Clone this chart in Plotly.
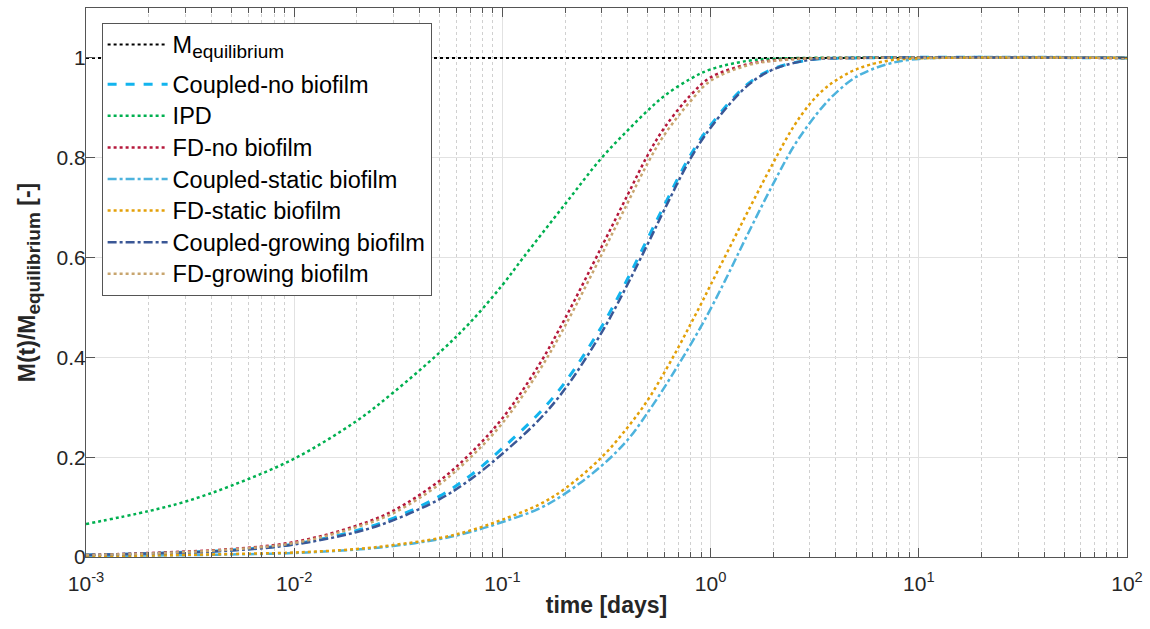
import plotly.graph_objects as go

# ---------------- data ----------------
t_eq = [1e-3, 1e2]
m_eq = [1.0, 1.0]

t_ipd = [1e-3, 2e-3, 3e-3, 5e-3, 1e-2, 2e-2, 3e-2, 5e-2, 7e-2, 0.1, 0.126, 0.2, 0.3, 0.4, 0.5, 0.6, 0.8, 1.0, 1.5, 2.0, 3.0, 100.0]
y_ipd = [0.066, 0.092, 0.111, 0.143, 0.197, 0.273, 0.330, 0.410, 0.470, 0.545, 0.600, 0.707, 0.800, 0.855, 0.895, 0.924, 0.958, 0.977, 0.994, 0.998, 1.0, 1.0]

t_fast = [1e-3, 2e-3, 5e-3, 1e-2, 2e-2, 3e-2, 5e-2, 7e-2, 0.1, 0.15, 0.2, 0.3, 0.4, 0.5, 0.6, 0.8, 1.0, 1.5, 2.0, 3.0, 5.0, 100.0]
y_fd_no = [0.004, 0.008, 0.016, 0.030, 0.063, 0.093, 0.153, 0.207, 0.278, 0.385, 0.478, 0.622, 0.726, 0.806, 0.860, 0.925, 0.961, 0.987, 0.995, 0.999, 1.0, 1.0]
y_fd_grow = [0.004, 0.007, 0.015, 0.028, 0.060, 0.088, 0.146, 0.199, 0.268, 0.373, 0.463, 0.606, 0.710, 0.790, 0.846, 0.913, 0.954, 0.985, 0.994, 0.999, 1.0, 1.0]
y_cp_no = [0.004, 0.007, 0.014, 0.026, 0.053, 0.078, 0.122, 0.163, 0.218, 0.288, 0.350, 0.462, 0.558, 0.639, 0.705, 0.805, 0.865, 0.947, 0.978, 0.996, 1.0, 1.0]
y_cp_grow = [0.004, 0.007, 0.013, 0.025, 0.050, 0.074, 0.116, 0.155, 0.207, 0.275, 0.337, 0.450, 0.547, 0.628, 0.696, 0.798, 0.860, 0.944, 0.977, 0.996, 1.0, 1.0]

t_slow = [1e-3, 2e-3, 5e-3, 1e-2, 2e-2, 3e-2, 5e-2, 7e-2, 0.1, 0.15, 0.2, 0.3, 0.4, 0.5, 0.6, 0.7, 0.8, 0.9, 1.0, 1.2, 1.5, 2.0, 2.5, 3.0, 3.5, 4.0, 5.0, 7.0, 10.0, 100.0]
y_fd_static = [0.002, 0.003, 0.006, 0.009, 0.016, 0.024, 0.038, 0.053, 0.075, 0.105, 0.137, 0.200, 0.260, 0.315, 0.370, 0.420, 0.466, 0.507, 0.545, 0.610, 0.690, 0.790, 0.862, 0.908, 0.937, 0.955, 0.977, 0.994, 0.999, 1.0]
y_cp_static = [0.002, 0.003, 0.005, 0.008, 0.015, 0.022, 0.036, 0.050, 0.070, 0.097, 0.127, 0.183, 0.235, 0.290, 0.340, 0.385, 0.425, 0.462, 0.497, 0.562, 0.645, 0.748, 0.822, 0.870, 0.905, 0.930, 0.962, 0.987, 0.998, 1.0]

x_tickvals = [1e-3, 1e-2, 1e-1, 1e0, 1e1, 1e2]
x_ticktext = ["10<sup>-3</sup>", "10<sup>-2</sup>", "10<sup>-1</sup>", "10<sup>0</sup>", "10<sup>1</sup>", "10<sup>2</sup>"]
y_tickvals = [0, 0.2, 0.4, 0.6, 0.8, 1.0]
y_ticktext = ["0", "0.2", "0.4", "0.6", "0.8", "1"]

# minor (2..9 x decade) tick positions of the log axis
x_minor = [m * d for d in x_tickvals[:-1] for m in range(2, 10)]

FONT = "Liberation Sans, Arial, Helvetica, sans-serif"
SUB = '<sub><span style="font-size:19px">equilibrium</span></sub>'


def big(s):
    return '<span style="font-size:23.5px">' + s + '</span>'


series = [
    ("M" + SUB, "g1", t_eq, m_eq, "#000000", "dot", 2),
    ("Coupled-no biofilm", "g2", t_fast, y_cp_no, "#12B4EE", "dash", 3),
    ("IPD", "g2", t_ipd, y_ipd, "#00B050", "dot", 2.5),
    ("FD-no biofilm", "g2", t_fast, y_fd_no, "#B5183B", "dot", 2.5),
    ("Coupled-static biofilm", "g2", t_slow, y_cp_static, "#4DB3DD", "dashdot", 2.5),
    ("FD-static biofilm", "g2", t_slow, y_fd_static, "#E3A008", "dot", 2.5),
    ("Coupled-growing biofilm", "g2", t_fast, y_cp_grow, "#3A5796", "dashdot", 2.5),
    ("FD-growing biofilm", "g2", t_fast, y_fd_grow, "#C8A56E", "dot", 2.5),
]

fig = go.Figure()
for name, grp, xs, ys, col, dash, w in series:
    fig.add_trace(go.Scatter(x=xs, y=ys, mode="lines", name=big(name), legendgroup=grp,
                             line=dict(color=col, dash=dash, width=w, shape="spline", smoothing=1.0)))

axis_common = dict(
    showline=True, linecolor="#555555", linewidth=1.2, mirror="ticks",
    ticks="inside", tickcolor="#555555", ticklen=9, tickwidth=1.2,
    showgrid=True, gridcolor="#E2E2E2", gridwidth=1,
    zeroline=False,
    tickfont=dict(family=FONT, size=21, color="#262626"),
)

fig.update_xaxes(
    type="log", range=[-3, 2],
    tickvals=x_tickvals, ticktext=x_ticktext,
    ticklabelstandoff=8,
    minor=dict(tickvals=x_minor, ticks="inside", ticklen=5, tickcolor="#555555", tickwidth=1,
               showgrid=True, gridcolor="#D0D0D0", griddash="dot", gridwidth=1),
    title=dict(text="<b>time [days]</b>", font=dict(family=FONT, size=23, color="#262626"), standoff=2),
    **axis_common,
)
fig.update_yaxes(
    range=[0, 1.1],
    tickvals=y_tickvals, ticktext=y_ticktext,
    ticklabelstandoff=-5,
    title=dict(text="<b>M(t)/M" + SUB + " [-]</b>", font=dict(family=FONT, size=23, color="#262626"), standoff=14),
    **axis_common,
)

fig.update_layout(
    width=1150, height=629,
    margin=dict(l=86, r=19, t=7, b=72),
    paper_bgcolor="white", plot_bgcolor="white",
    font=dict(family=FONT, color="#000000"),
    legend=dict(
        x=0.015, y=0.973, xanchor="left", yanchor="top",
        bgcolor="white", bordercolor="#555555", borderwidth=1,
        font=dict(family=FONT, size=22, color="#000000"),
        itemwidth=60, tracegroupgap=8, groupclick="toggleitem",
    ),
    showlegend=True,
)

fig.write_html("out.html")
